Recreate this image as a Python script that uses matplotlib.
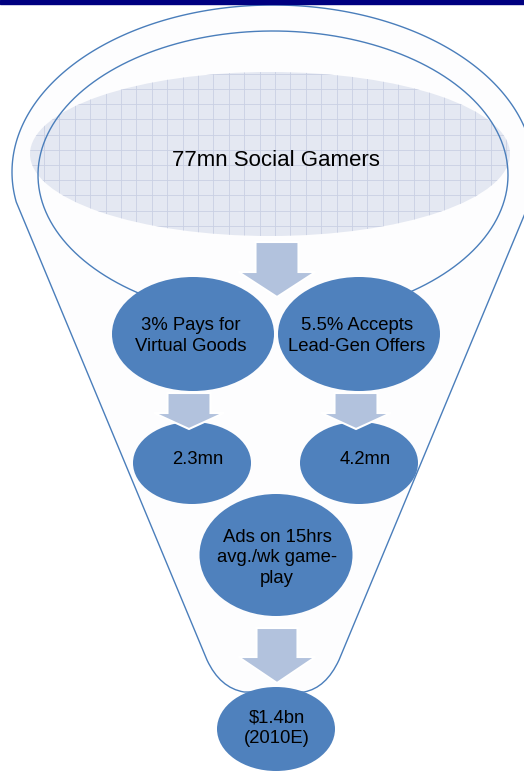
"""
Social gaming revenue funnel drawn with matplotlib patches.
"""
import numpy as np
import matplotlib.pyplot as plt
from matplotlib.patches import Ellipse, Polygon, PathPatch
from matplotlib.path import Path

plt.rcParams['font.family'] = ['Liberation Sans', 'DejaVu Sans']

# funnel stages, top to bottom
top_label = '77mn Social Gamers'
split_labels = ['3% Pays for\nVirtual Goods', '5.5% Accepts\nLead-Gen Offers']
split_values = ['2.3mn', '4.2mn']
ads_label = 'Ads on 15hrs\navg./wk game-\nplay'
result_label = r'\$1.4bn' + '\n(2010E)'

LINE = '#4A7EBB'
BLUE = '#4F81BD'
ARROW = '#B2C2DD'
GRID_FILL = '#E4E8F2'
GRID_LINE = '#C9D0E3'
FS = 13.3

fig = plt.figure(figsize=(5.24, 7.73), dpi=100)
ax = fig.add_axes([0, 0, 1, 1])
ax.set_xlim(0, 524)
ax.set_ylim(773, 0)
ax.axis('off')

# navy strip along the top edge
ax.add_patch(plt.Rectangle((0, 0), 524, 4, color='#000080', zorder=10))

# funnel body: rim arc, sloped sides, rounded spout
cx, cy, a, b = 273, 172, 261, 167
t0 = np.arcsin(30 / b)
t = np.linspace(np.pi + t0, -t0, 200)
rim = np.column_stack([cx + a * np.cos(t), cy - b * np.sin(t)])
verts = list(map(tuple, rim))
codes = [Path.MOVETO] + [Path.LINETO] * (len(verts) - 1)
verts += [(339, 660), (326, 688), (304, 692), (244, 692),
          (220, 688), (207, 660), (0, 0)]
codes += [Path.LINETO, Path.CURVE3, Path.CURVE3, Path.LINETO,
          Path.CURVE3, Path.CURVE3, Path.CLOSEPOLY]
ax.add_patch(PathPatch(Path(verts, codes), fc='#FDFDFE', ec=LINE, lw=1.0, zorder=1))

# gridded top ellipse
top = Ellipse((270, 154), 480, 164, fc=GRID_FILL, ec='none', zorder=2)
ax.add_patch(top)
for gx in np.arange(275 - 15.4 * 16, 520, 15.4):
    ln = ax.plot([gx, gx], [60, 250], color=GRID_LINE, lw=0.6, zorder=2.1)[0]
    ln.set_clip_path(top)
for gy in np.arange(89 - 15.2, 250, 15.2):
    ln = ax.plot([20, 520], [gy, gy], color=GRID_LINE, lw=0.6, zorder=2.1)[0]
    ln.set_clip_path(top)
ax.text(276, 160, top_label, fontsize=16, ha='center', va='center', zorder=3)

# inner rim of the funnel, open at the bottom behind the first bubbles
t = np.linspace(-1.0, np.pi + 1.0, 300)
ax.plot(273 + 235 * np.cos(t), 175 - 144 * np.sin(t), color=LINE, lw=1.0, zorder=2.5)


def down_arrow(x, top_y, head_y, tip_y, shaft, head):
    pts = [(x - shaft, top_y), (x + shaft, top_y), (x + shaft, head_y),
           (x + head, head_y), (x, tip_y), (x - head, head_y),
           (x - shaft, head_y)]
    ax.add_patch(Polygon(pts, closed=True, fc=ARROW, ec='white', lw=1.5, zorder=6))


def bubble(x, y, w, h, label, dx=0, dy=0):
    ax.add_patch(Ellipse((x, y), w, h, fc=BLUE, ec='none', zorder=5))
    ax.text(x + dx, y + dy, label, fontsize=FS, ha='center', va='center',
            linespacing=1.3, zorder=7)


down_arrow(277, 242, 272, 297, 21.5, 38.5)

for x, lab in zip([193, 359], split_labels):
    bubble(x, 334, 162, 114, lab, dx=-2, dy=2)

for x in [189, 356]:
    down_arrow(x, 393, 413, 429, 21.5, 35)

for x, lab in zip([192, 359], split_values):
    bubble(x, 463, 118, 82, lab, dx=6, dy=-3)

bubble(276, 555, 153, 122, ads_label, dx=1, dy=3)
down_arrow(277, 628, 657, 683, 20.5, 38.5)
bubble(276, 729, 118, 84, result_label, dx=1, dy=-1)

plt.savefig('out.png', dpi=100)
